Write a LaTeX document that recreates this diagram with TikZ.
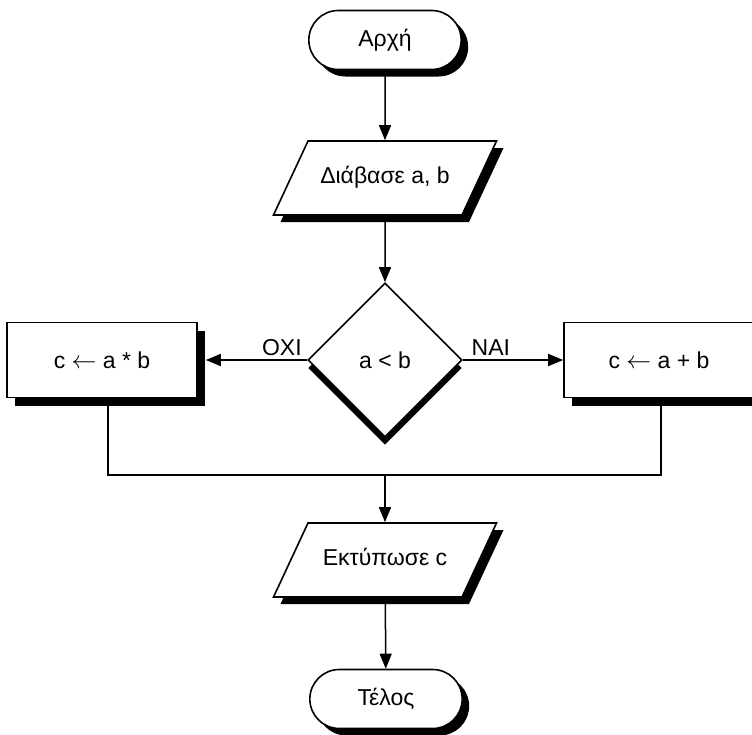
\documentclass[tikz,border=0pt]{standalone}
\usepackage{fontspec}
\setmainfont{Liberation Sans}
\usetikzlibrary{arrows.meta, shapes.geometric, shapes.misc, shadows}

\tikzset{
	blackshadow/.style={drop shadow={shadow xshift=7pt, shadow yshift=-7pt, fill=black, opacity=1}},
	terminal/.style={rounded rectangle, draw, fill=white, line width=1.6pt, blackshadow, minimum width=159pt, minimum height=59pt},
	io/.style={trapezium, trapezium left angle=65, trapezium right angle=115, trapezium stretches body, draw, fill=white, line width=1.6pt, blackshadow, minimum width=223pt, text height=16pt, text depth=5pt, inner ysep=26.5pt},
	process/.style={rectangle, draw, fill=white, line width=1.6pt, drop shadow={shadow xshift=8pt, shadow yshift=-8pt, fill=black, opacity=1}, minimum width=190pt, minimum height=75pt},
	decision/.style={diamond, aspect=1, draw, fill=white, line width=1.6pt, drop shadow={shadow xshift=0pt, shadow yshift=-8pt, fill=black, opacity=1}, minimum width=154pt, minimum height=154pt, inner sep=0pt}
}

\begin{document}
\begin{tikzpicture}[x=1pt, y=-1pt, font=\fontsize{23}{27}\selectfont, >={Triangle[length=15pt, width=12pt]}, line width=1.5pt]
	\useasboundingbox (0,0) rectangle (752,734);

	\node[terminal] (start) at (385,40) {Αρχή};
	\node[io] (read) at (385,178) {Διάβασε a, b};
	\node[decision] (test) at (385,360) {a < b};
	\node[process] (mul) at (102,360) {c $\leftarrow$ a * b};
	\node[process] (add) at (659,360) {c $\leftarrow$ a + b};
	\coordinate (join) at (385,475);
	\node[io] (print) at (385,560) {Εκτύπωσε c};
	\node[terminal] (stop) at (386,699) {Τέλος};

	\path[->] (start) edge (read);
	\path[->] (read) edge (test);
	\path[->] (test.west) edge node[pos=0.25, above] {OXI} ([xshift=8pt]mul.east);
	\path[->] (test.east) edge node[pos=0.28, above] {NAI} (add.west);
	\draw ([xshift=6pt]mul.south) |- (join) -| ([xshift=2pt]add.south);
	\path[->] (join) edge (print);
	\path[->] (print) edge (stop);
\end{tikzpicture}
\end{document}
